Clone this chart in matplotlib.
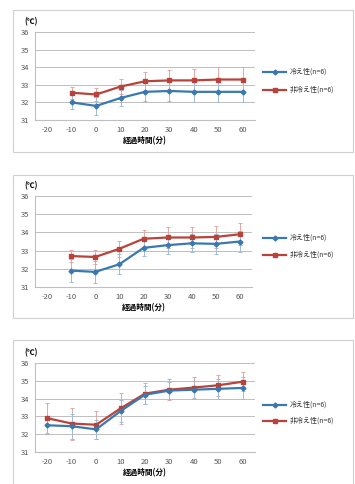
import matplotlib.pyplot as plt
from matplotlib.patches import Rectangle

plt.rcParams['font.family'] = ['Noto Sans CJK JP', 'DejaVu Sans']

categories = ['-20', '-10', '0', '10', '20', '30', '40', '50', '60']
label_cold = '冷え性(n=6)'
label_norm = '非冷え性(n=6)'

# panel 1
p1_cold = [None, 32.0, 31.8, 32.25, 32.6, 32.65, 32.6, 32.6, 32.6]
p1_norm = [None, 32.55, 32.45, 32.9, 33.2, 33.25, 33.25, 33.3, 33.3]
p1_cold_err = [None, 0.4, 0.5, 0.45, 0.5, 0.55, 0.55, 0.55, 0.55]
p1_norm_err = [None, 0.35, 0.35, 0.45, 0.5, 0.6, 0.65, 0.7, 0.7]

# panel 2
p2_cold = [None, 31.9, 31.83, 32.25, 33.15, 33.3, 33.4, 33.37, 33.5]
p2_norm = [None, 32.7, 32.65, 33.1, 33.65, 33.72, 33.72, 33.75, 33.9]
p2_cold_err = [None, 0.65, 0.6, 0.55, 0.45, 0.5, 0.5, 0.55, 0.55]
p2_norm_err = [None, 0.35, 0.4, 0.45, 0.5, 0.55, 0.6, 0.6, 0.6]

# panel 3
p3_cold = [32.5, 32.45, 32.27, 33.3, 34.22, 34.45, 34.5, 34.55, 34.6]
p3_norm = [32.9, 32.6, 32.53, 33.45, 34.28, 34.5, 34.62, 34.75, 34.95]
p3_cold_err = [0.5, 0.7, 0.55, 0.6, 0.5, 0.5, 0.5, 0.55, 0.6]
p3_norm_err = [0.85, 0.9, 0.8, 0.85, 0.6, 0.6, 0.6, 0.6, 0.55]

yticks = [31, 32, 33, 34, 35, 36]

blue = '#3a78b0'
red = '#b8433b'
blue_err = '#9fbcd6'
red_err = '#e0a9a4'

W, H = 355, 484
fig = plt.figure(figsize=(W / 100, H / 100), dpi=100)

# (box top, box bottom, axes top, axes bottom, axes right, legend y1, legend y2) in pixels
panels = [
    (p1_cold, p1_norm, p1_cold_err, p1_norm_err, (10, 152, 32, 120, 255, 72, 90)),
    (p2_cold, p2_norm, p2_cold_err, p2_norm_err, (175, 318, 196, 287, 252, 238, 255)),
    (p3_cold, p3_norm, p3_cold_err, p3_norm_err, (340, 490, 363, 452, 255, 405, 421)),
]


def draw(cold, norm, cold_err, norm_err, geo):
    bt, bb, at, ab, ar, ly1, ly2 = geo
    fig.patches.append(Rectangle((13 / W, 1 - bb / H), 340 / W, (bb - bt) / H,
                                 transform=fig.transFigure, fill=False,
                                 edgecolor='#d0d0d0', lw=0.8))
    ax = fig.add_axes([35 / W, 1 - ab / H, (ar - 35) / W, (ab - at) / H])
    x = list(range(len(categories)))
    for vals, errs, c, ec, m in [(norm, norm_err, red, red_err, 's'),
                                 (cold, cold_err, blue, blue_err, 'D')]:
        xs = [i for i, v in zip(x, vals) if v is not None]
        ys = [v for v in vals if v is not None]
        es = [e for e in errs if e is not None]
        ax.errorbar(xs, ys, yerr=es, fmt='none', ecolor=ec, elinewidth=0.7,
                    capsize=1.5, capthick=0.7, zorder=2)
        ax.plot(xs, ys, color=c, lw=1.6, marker=m, ms=2.5, zorder=3)
    ax.set_xlim(-0.5, len(categories) - 0.5)
    ax.set_ylim(31, 36)
    ax.set_yticks(yticks)
    ax.set_xticks(x)
    ax.set_xticklabels(categories)
    ax.tick_params(labelsize=5.5, colors='#555555', length=0, pad=4)
    ax.grid(axis='y', color='#bfbfbf', lw=0.7)
    ax.set_axisbelow(True)
    for s in ['top', 'right']:
        ax.spines[s].set_visible(False)
    ax.spines['left'].set_color('#bfbfbf')
    ax.spines['bottom'].set_color('#bfbfbf')
    ax.set_xlabel('経過時間(分)', fontsize=5.5, fontweight='bold', labelpad=2)
    fig.text(24 / W, 1 - (at - 10) / H, '(℃)', fontsize=5.5, fontweight='bold',
             va='center', ha='left')
    for yy, c, m, lab in [(ly1, blue, 'D', label_cold), (ly2, red, 's', label_norm)]:
        fy = 1 - yy / H
        fig.lines.append(plt.Line2D([263 / W, 286 / W], [fy, fy], color=c, lw=1.6,
                                    transform=fig.transFigure))
        fig.lines.append(plt.Line2D([274.5 / W], [fy], color=c, marker=m, ms=2.5,
                                    transform=fig.transFigure))
        fig.text(290 / W, fy, lab, fontsize=5, va='center', ha='left', color='#333333')


for cold, norm, ce, ne, geo in panels:
    draw(cold, norm, ce, ne, geo)

fig.savefig('out.png', dpi=100)
